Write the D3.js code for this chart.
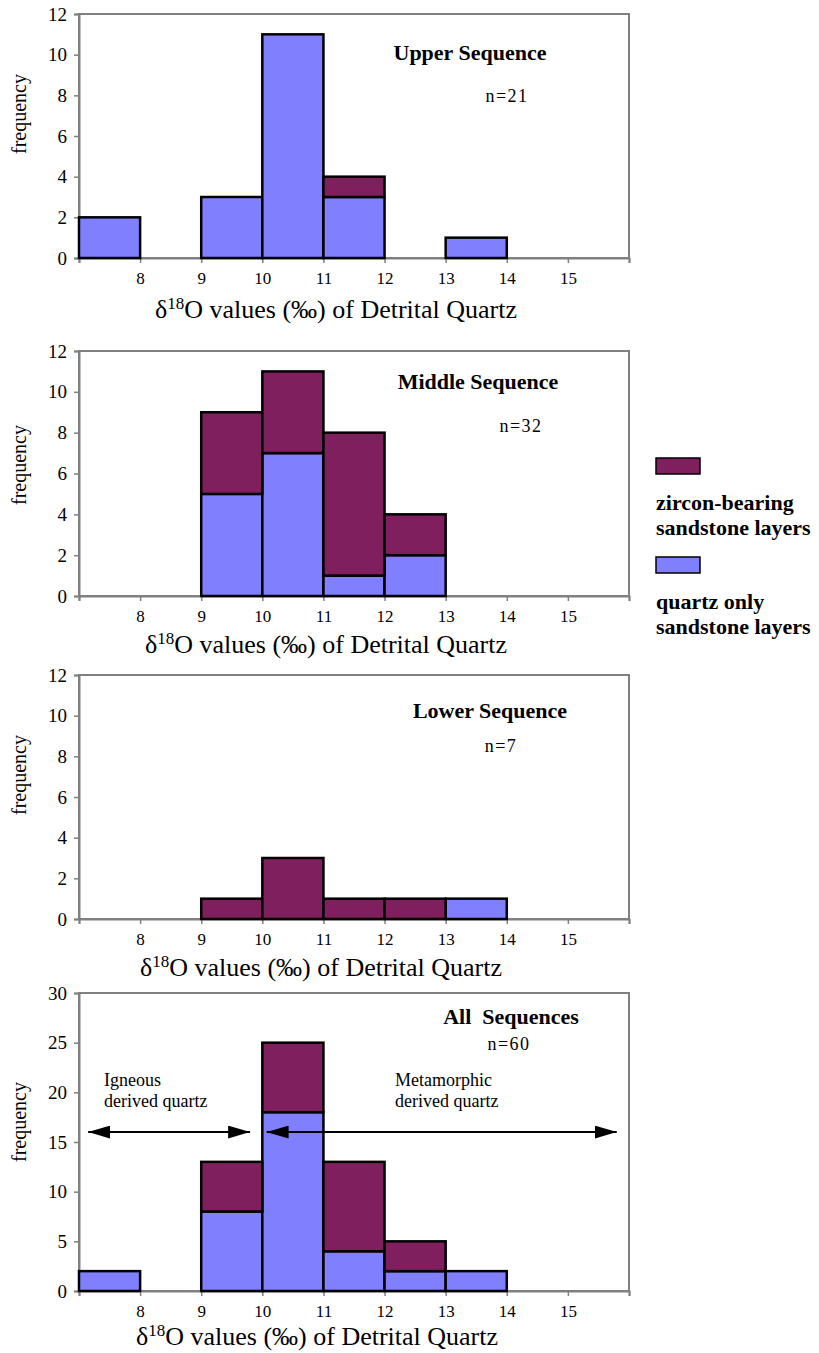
<!DOCTYPE html>
<html>
<head>
<meta charset="utf-8">
<script src="https://cdn.jsdelivr.net/npm/d3@7/dist/d3.min.js"></script>
<style>
    body { margin: 0; background: #fff; }
    text { font-family: "Liberation Serif", "Times New Roman", serif; fill: #000; }
</style>
</head>
<body>
<script>
    // bins are 1 permil wide, starting at these values
    var binStarts = [7, 8, 9, 10, 11, 12, 13, 14, 15];
    var xTickValues = [7, 8, 9, 10, 11, 12, 13, 14, 15, 16];
    var xTickLabels = ["", "8", "9", "10", "11", "12", "13", "14", "15", ""];

    var upperQuartz  = [2, 0, 3, 11, 3, 0, 1, 0, 0];
    var upperZircon  = [0, 0, 0, 0, 1, 0, 0, 0, 0];
    var middleQuartz = [0, 0, 5, 7, 1, 2, 0, 0, 0];
    var middleZircon = [0, 0, 4, 4, 7, 2, 0, 0, 0];
    var lowerQuartz  = [0, 0, 0, 0, 0, 0, 1, 0, 0];
    var lowerZircon  = [0, 0, 1, 3, 1, 1, 0, 0, 0];
    var allQuartz    = [2, 0, 8, 18, 4, 2, 2, 0, 0];
    var allZircon    = [0, 0, 5, 7, 9, 3, 0, 0, 0];

    var panelNames  = ["Upper Sequence", "Middle Sequence", "Lower Sequence", "All  Sequences"];
    var panelCounts = ["n=21", "n=32", "n=7", "n=60"];
    var yMaxes      = [12, 12, 12, 30];
    var yTicksSmall = [0, 2, 4, 6, 8, 10, 12];
    var yTicksLarge = [0, 5, 10, 15, 20, 25, 30];

    var zoneLabels = [["Igneous", "derived quartz"], ["Metamorphic", "derived quartz"]];
    var zoneRanges = [[7.15, 9.8], [10.07, 15.8]];
    var zoneLevel = 16;

    var legendLabels = [["zircon-bearing", "sandstone layers"], ["quartz only", "sandstone layers"]];

    var quartzSets = [upperQuartz, middleQuartz, lowerQuartz, allQuartz];
    var zirconSets = [upperZircon, middleZircon, lowerZircon, allZircon];
    var yTickSets = [yTicksSmall, yTicksSmall, yTicksSmall, yTicksLarge];

    var blue = "#8080ff", maroon = "#7f1f5e", gray = "#808080";

    // layout of each panel (pixels)
    var layout = [
        {top: 14,  bottom: 258,  name: [470, 60],   n: [507, 102],  xt: [336, 318],  fy: 114},
        {top: 351, bottom: 596,  name: [478, 389],  n: [521, 432],  xt: [326, 653],  fy: 465},
        {top: 675, bottom: 919,  name: [490, 718],  n: [501, 752],  xt: [321, 976],  fy: 775},
        {top: 993, bottom: 1291, name: [511, 1024], n: [509, 1050], xt: [317, 1345], fy: 1122}
    ];

    var svg = d3.select("body").append("svg")
        .attr("width", 819)
        .attr("height", 1353);

    var defs = svg.append("defs");
    defs.append("marker")
        .attr("id", "head")
        .attr("viewBox", "0 0 22 13")
        .attr("refX", 22)
        .attr("refY", 6.5)
        .attr("markerUnits", "userSpaceOnUse")
        .attr("markerWidth", 22)
        .attr("markerHeight", 13)
        .attr("orient", "auto-start-reverse")
        .append("path")
        .attr("d", "M0,0 L22,6.5 L0,13 Z")
        .attr("fill", "#000");

    var x = d3.scaleLinear().domain([7, 16]).range([79, 629]);

    for (var p = 0; p < 4; p++) {
        var L = layout[p];
        var y = d3.scaleLinear().domain([0, yMaxes[p]]).range([L.bottom, L.top]);
        var g = svg.append("g").attr("class", "panel" + p);

        // frame
        g.append("rect")
            .attr("x", x(7)).attr("y", L.top)
            .attr("width", x(16) - x(7)).attr("height", L.bottom - L.top)
            .attr("fill", "none")
            .attr("stroke", gray)
            .attr("stroke-width", 2);

        var yAxis = g.append("g")
            .attr("transform", "translate(" + x(7) + ",0)")
            .call(d3.axisLeft(y).tickValues(yTickSets[p]).tickSize(5).tickPadding(7));
        yAxis.selectAll("text")
            .style("font-family", "Liberation Serif")
            .style("font-size", "19px")
            .attr("fill", "#111");

        var xAxis = g.append("g")
            .attr("transform", "translate(0," + L.bottom + ")")
            .call(d3.axisBottom(x).tickValues(xTickValues).tickSize(5).tickPadding(9)
                .tickFormat(function(d, i) { return xTickLabels[i]; }));
        xAxis.selectAll("text")
            .style("font-family", "Liberation Serif")
            .style("font-size", "17px")
            .attr("fill", "#111");

        [yAxis, xAxis].forEach(function(a) {
            a.select(".domain").attr("stroke", gray).attr("stroke-width", 2);
            a.selectAll("line").attr("stroke", gray).attr("stroke-width", 1.5);
        });

        // stacked bars: quartz only on the bottom, zircon-bearing on top
        var rows = binStarts.map(function(b, i) {
            return {b: b, q: quartzSets[p][i], z: zirconSets[p][i]};
        });

        g.append("g").selectAll("rect")
            .data(rows.filter(function(d) { return d.q > 0; }))
            .enter().append("rect")
            .attr("x", function(d) { return x(d.b); })
            .attr("width", function(d) { return x(d.b + 1) - x(d.b); })
            .attr("y", function(d) { return y(d.q); })
            .attr("height", function(d) { return y(0) - y(d.q); })
            .attr("fill", blue)
            .attr("stroke", "#000")
            .attr("stroke-width", 2.5);

        g.append("g").selectAll("rect")
            .data(rows.filter(function(d) { return d.z > 0; }))
            .enter().append("rect")
            .attr("x", function(d) { return x(d.b); })
            .attr("width", function(d) { return x(d.b + 1) - x(d.b); })
            .attr("y", function(d) { return y(d.q + d.z); })
            .attr("height", function(d) { return y(d.q) - y(d.q + d.z); })
            .attr("fill", maroon)
            .attr("stroke", "#000")
            .attr("stroke-width", 2.5);

        g.append("text")
            .attr("x", L.name[0]).attr("y", L.name[1])
            .attr("text-anchor", "middle")
            .style("font-size", "22px")
            .style("font-weight", "bold")
            .style("white-space", "pre")
            .text(panelNames[p]);

        g.append("text")
            .attr("x", L.n[0]).attr("y", L.n[1])
            .attr("text-anchor", "middle")
            .style("font-size", "18px")
            .style("letter-spacing", "1.5px")
            .attr("fill", "#222")
            .text(panelCounts[p]);

        g.append("text")
            .attr("transform", "translate(26," + L.fy + ") rotate(-90)")
            .attr("text-anchor", "middle")
            .style("font-size", "20px")
            .attr("fill", "#222")
            .text("frequency");

        var xt = g.append("text")
            .attr("x", L.xt[0]).attr("y", L.xt[1])
            .attr("text-anchor", "middle")
            .style("font-size", "26px")
            .attr("fill", "#111");
        xt.append("tspan").text("δ");
        xt.append("tspan").attr("dy", -9).style("font-size", "17px").text("18");
        xt.append("tspan").attr("dy", 9).text("O values (‰) of Detrital Quartz");

        if (p == 3) {
            g.append("g").selectAll("line")
                .data(zoneRanges)
                .enter().append("line")
                .attr("x1", function(d) { return x(d[0]); })
                .attr("x2", function(d) { return x(d[1]); })
                .attr("y1", y(zoneLevel))
                .attr("y2", y(zoneLevel))
                .attr("stroke", "#000")
                .attr("stroke-width", 2)
                .attr("marker-start", "url(#head)")
                .attr("marker-end", "url(#head)");

            var zoneX = [104, 395];
            zoneLabels.forEach(function(lines, k) {
                lines.forEach(function(s, j) {
                    g.append("text")
                        .attr("x", zoneX[k])
                        .attr("y", 1086 + j * 21)
                        .style("font-size", "18px")
                        .attr("fill", "#222")
                        .text(s);
                });
            });
        }
    }

    // legend
    var legendColors = [maroon, blue];
    var legendTops = [458, 557];
    legendLabels.forEach(function(lines, k) {
        svg.append("rect")
            .attr("x", 656).attr("y", legendTops[k])
            .attr("width", 44).attr("height", 16)
            .attr("fill", legendColors[k])
            .attr("stroke", "#000")
            .attr("stroke-width", 1.5);
        lines.forEach(function(s, j) {
            svg.append("text")
                .attr("x", 656)
                .attr("y", legendTops[k] + 52 + j * 25)
                .style("font-size", "22px")
                .style("font-weight", "bold")
                .text(s);
        });
    });
</script>
</body>
</html>
